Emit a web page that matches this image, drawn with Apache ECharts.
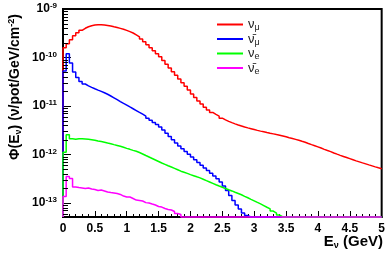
<!DOCTYPE html>
<html>
<head>
<meta charset="utf-8">
<script src="https://cdn.jsdelivr.net/npm/echarts@6/dist/echarts.min.js"></script>
<style>
  html, body { margin: 0; padding: 0; background: #fff; }
  #chart { width: 388px; height: 255px; }
</style>
</head>
<body>
<div id="chart"></div>
<script>
// flux per 0.05 GeV bin, 0 = empty bin (drawn on the axis floor like ROOT does)
const BIN_WIDTH = 0.05
const Y_MIN = 5.1e-14
const Y_MAX = 1e-9

const numu = [
  1.58e-10, 1.91e-10, 2.32e-10, 2.80e-10, 3.23e-10, 3.64e-10, 4.00e-10, 4.30e-10, 4.51e-10, 4.66e-10,
  4.73e-10, 4.73e-10, 4.68e-10, 4.59e-10, 4.47e-10, 4.30e-10, 4.14e-10, 3.98e-10, 3.81e-10, 3.62e-10,
  3.42e-10, 3.20e-10, 2.93e-10, 2.67e-10, 2.40e-10, 2.10e-10, 1.82e-10, 1.58e-10, 1.37e-10, 1.19e-10,
  1.03e-10, 8.61e-11, 7.24e-11, 6.07e-11, 5.09e-11, 4.29e-11, 3.59e-11, 3.01e-11, 2.54e-11, 2.12e-11,
  1.76e-11, 1.49e-11, 1.26e-11, 1.09e-11, 9.44e-12, 8.26e-12, 7.33e-12, 6.67e-12, 6.15e-12, 5.59e-12,
  5.15e-12, 4.80e-12, 4.51e-12, 4.26e-12, 4.04e-12, 3.85e-12, 3.67e-12, 3.52e-12, 3.39e-12, 3.26e-12,
  3.13e-12, 3.02e-12, 2.92e-12, 2.82e-12, 2.73e-12, 2.65e-12, 2.56e-12, 2.48e-12, 2.39e-12, 2.30e-12,
  2.21e-12, 2.13e-12, 2.04e-12, 1.95e-12, 1.86e-12, 1.78e-12, 1.68e-12, 1.59e-12, 1.51e-12, 1.43e-12,
  1.35e-12, 1.27e-12, 1.20e-12, 1.14e-12, 1.07e-12, 1.01e-12, 9.55e-13, 9.07e-13, 8.61e-13, 8.17e-13,
  7.75e-13, 7.35e-13, 7.01e-13, 6.68e-13, 6.37e-13, 6.07e-13, 5.79e-13, 5.52e-13, 5.28e-13, 5.07e-13
]

const numubar = [
  5.26e-11, 1.19e-10, 7.71e-11, 5.01e-11, 3.86e-11, 3.19e-11, 2.83e-11, 2.60e-11, 2.42e-11, 2.26e-11,
  2.12e-11, 2.00e-11, 1.87e-11, 1.74e-11, 1.60e-11, 1.47e-11, 1.35e-11, 1.23e-11, 1.13e-11, 1.04e-11,
  9.53e-12, 8.75e-12, 8.03e-12, 7.36e-12, 6.76e-12, 6.15e-12, 5.59e-12, 5.08e-12, 4.57e-12, 4.12e-12,
  3.69e-12, 3.17e-12, 2.72e-12, 2.33e-12, 2.00e-12, 1.72e-12, 1.48e-12, 1.30e-12, 1.14e-12, 1.00e-12,
  8.81e-13, 7.75e-13, 6.81e-13, 5.98e-13, 5.26e-13, 4.62e-13, 4.06e-13, 3.57e-13, 3.14e-13, 2.70e-13,
  2.23e-13, 1.80e-13, 1.42e-13, 1.12e-13, 9.00e-14, 7.44e-14, 6.15e-14, 5.45e-14, 0, 0,
  0, 0, 0, 0, 0, 0, 0, 0, 0, 0,
  0, 0, 0, 0, 0, 0, 0, 0, 0, 0,
  0, 0, 0, 0, 0, 0, 0, 0, 0, 0,
  0, 0, 0, 0, 0, 0, 0, 0, 0, 0
]

const nue = [
  1.10e-12, 2.54e-12, 2.10e-12, 2.05e-12, 2.10e-12, 2.10e-12, 2.08e-12, 2.05e-12, 2.00e-12, 1.95e-12,
  1.89e-12, 1.84e-12, 1.78e-12, 1.71e-12, 1.66e-12, 1.59e-12, 1.53e-12, 1.47e-12, 1.40e-12, 1.33e-12,
  1.27e-12, 1.21e-12, 1.16e-12, 1.09e-12, 1.02e-12, 9.46e-13, 8.81e-13, 8.20e-13, 7.64e-13, 7.11e-13,
  6.62e-13, 6.22e-13, 5.82e-13, 5.47e-13, 5.14e-13, 4.81e-13, 4.50e-13, 4.27e-13, 4.05e-13, 3.82e-13,
  3.63e-13, 3.44e-13, 3.27e-13, 3.07e-13, 2.87e-13, 2.69e-13, 2.52e-13, 2.36e-13, 2.22e-13, 2.09e-13,
  1.98e-13, 1.86e-13, 1.76e-13, 1.65e-13, 1.56e-13, 1.47e-13, 1.36e-13, 1.27e-13, 1.18e-13, 1.10e-13,
  1.02e-13, 9.53e-14, 8.79e-14, 8.11e-14, 7.52e-14, 6.76e-14, 6.15e-14, 5.58e-14, 0, 0,
  0, 0, 0, 0, 0, 0, 0, 0, 0, 0,
  0, 0, 0, 0, 0, 0, 0, 0, 0, 0,
  0, 0, 0, 0, 0, 0, 0, 0, 0, 0
]

const nuebar = [
  1.35e-13, 3.51e-13, 3.19e-13, 2.12e-13, 2.07e-13, 2.03e-13, 1.98e-13, 2.03e-13, 1.93e-13, 1.89e-13,
  1.80e-13, 1.84e-13, 1.76e-13, 1.67e-13, 1.63e-13, 1.60e-13, 1.56e-13, 1.49e-13, 1.38e-13, 1.32e-13,
  1.32e-13, 1.23e-13, 1.14e-13, 1.12e-13, 1.09e-13, 1.01e-13, 9.91e-14, 9.44e-14, 9.00e-14, 8.38e-14,
  8.18e-14, 7.62e-14, 7.27e-14, 7.10e-14, 6.61e-14, 6.00e-14, 5.72e-14, 0, 0, 0,
  0, 0, 0, 0, 0, 0, 0, 0, 0, 0,
  0, 0, 0, 0, 0, 0, 0, 0, 0, 0,
  0, 0, 0, 0, 0, 0, 0, 0, 0, 0,
  0, 0, 0, 0, 0, 0, 0, 0, 0, 0,
  0, 0, 0, 0, 0, 0, 0, 0, 0, 0,
  0, 0, 0, 0, 0, 0, 0, 0, 0, 0
]

const seriesNames = ['numu', 'numubar', 'nue', 'nuebar']
const seriesLabels = ['{n|ν}{s|μ}', '{n|ν̄}{s|μ}', '{n|ν}{s|e}', '{n|ν̄}{s|e}']
const seriesColors = ['#ff0000', '#0000ff', '#00ff00', '#ff00ff']
const seriesValues = [numu, numubar, nue, nuebar]

// bin low edges plus the last high edge
const binEdges = numu.map((_, i) => +(i * BIN_WIDTH).toFixed(2))
binEdges.push(+(numu.length * BIN_WIDTH).toFixed(2))

function histPoints (vals) {
  const pts = [[binEdges[0], Y_MIN]]
  vals.forEach((v, i) => {
    pts.push([binEdges[i], v > 0 ? v : Y_MIN])
  })
  const last = vals[vals.length - 1]
  pts.push([binEdges[vals.length], last > 0 ? last : Y_MIN])
  return pts
}

const FONT = 'Liberation Sans, Arial, Helvetica, sans-serif'

const chart = echarts.init(document.getElementById('chart'))

chart.setOption({
  animation: false,
  backgroundColor: '#fff',
  grid: {
    left: 63,
    right: 5,
    top: 9,
    bottom: 38,
    show: true,
    borderColor: '#000',
    borderWidth: 2,
    backgroundColor: 'transparent'
  },
  legend: {
    orient: 'vertical',
    left: 212,
    top: 13,
    icon: 'rect',
    itemWidth: 26,
    itemHeight: 2,
    itemGap: 0,
    data: seriesNames,
    formatter: name => seriesLabels[seriesNames.indexOf(name)],
    textStyle: {
      color: '#000',
      rich: {
        n: { fontSize: 13, fontFamily: FONT, color: '#222' },
        s: { fontSize: 9, fontFamily: FONT, color: '#222', verticalAlign: 'bottom', padding: [7, 0, 0, 0] }
      }
    }
  },
  xAxis: {
    type: 'value',
    min: 0,
    max: 5,
    interval: 0.5,
    axisLine: { show: true, lineStyle: { color: '#000', width: 2 } },
    axisTick: { show: true, inside: true, length: 6, lineStyle: { color: '#000', width: 1 } },
    minorTick: { show: true, splitNumber: 5, length: 3, lineStyle: { color: '#000', width: 1 } },
    splitLine: { show: false },
    axisLabel: {
      margin: 6,
      color: '#000',
      fontSize: 12,
      fontWeight: 'bold',
      fontFamily: FONT,
      formatter: v => String(v)
    }
  },
  yAxis: {
    type: 'log',
    min: Y_MIN,
    max: Y_MAX,
    axisLine: { show: true, lineStyle: { color: '#000', width: 2 } },
    axisTick: { show: true, inside: true, length: 8, lineStyle: { color: '#000', width: 1 } },
    splitLine: { show: false },
    axisLabel: {
      margin: 6,
      color: '#000',
      formatter: v => {
        const lg = Math.log10(v)
        const e = Math.round(lg)
        if (Math.abs(lg - e) > 0.01) return ''
        return '{b|10}{sup|' + e + '}'
      },
      rich: {
        b: { fontSize: 12, fontWeight: 'bold', fontFamily: FONT, color: '#000' },
        sup: { fontSize: 8, fontWeight: 'bold', fontFamily: FONT, color: '#000', verticalAlign: 'top', padding: [0, 0, 6, 0] }
      }
    }
  },
  graphic: [
    {
      type: 'text',
      id: 'ytitle',
      x: 15,
      y: 87,
      rotation: Math.PI / 2,
      style: {
        text: '{a|Φ(E}{s|ν}{a|) (ν/pot/GeV/cm}{p|-2}{a|)}',
        align: 'center',
        verticalAlign: 'middle',
        rich: {
          a: { fontSize: 14, fontWeight: 'bold', fontFamily: FONT, fill: '#000' },
          s: { fontSize: 9, fontWeight: 'bold', fontFamily: FONT, fill: '#000', padding: [7, 0, 0, 0] },
          p: { fontSize: 9, fontWeight: 'bold', fontFamily: FONT, fill: '#000', padding: [0, 0, 7, 0] }
        }
      }
    },
    {
      type: 'text',
      id: 'xtitle',
      x: 383,
      y: 242,
      style: {
        text: '{a|E}{s|ν}{a| (GeV)}',
        align: 'right',
        verticalAlign: 'middle',
        rich: {
          a: { fontSize: 15, fontWeight: 'bold', fontFamily: FONT, fill: '#000' },
          s: { fontSize: 9, fontWeight: 'bold', fontFamily: FONT, fill: '#000', padding: [8, 0, 0, 0] }
        }
      }
    }
  ],
  series: seriesNames.map((name, k) => ({
    name: name,
    type: 'line',
    step: 'end',
    symbol: 'none',
    clip: false,
    data: histPoints(seriesValues[k]),
    itemStyle: { color: seriesColors[k] },
    lineStyle: { color: seriesColors[k], width: 1.5 },
    z: 2 + k
  }))
})

// log minor ticks on the y axis (2..9 x 10^n), placed with the axis scale
const minorTicks = []
const x0 = chart.convertToPixel({ xAxisIndex: 0 }, 0)
for (let n = -14; n <= -10; n++) {
  for (let m = 2; m <= 9; m++) {
    const v = m * Math.pow(10, n)
    if (v <= Y_MIN || v >= Y_MAX) continue
    const py = Math.round(chart.convertToPixel({ yAxisIndex: 0 }, v)) + 0.5
    minorTicks.push({
      type: 'line',
      id: 'mt' + n + '_' + m,
      shape: { x1: x0, y1: py, x2: x0 + 5, y2: py },
      style: { stroke: '#000', lineWidth: 1 },
      z: 10
    })
  }
}
chart.setOption({ graphic: minorTicks })
</script>
</body>
</html>
